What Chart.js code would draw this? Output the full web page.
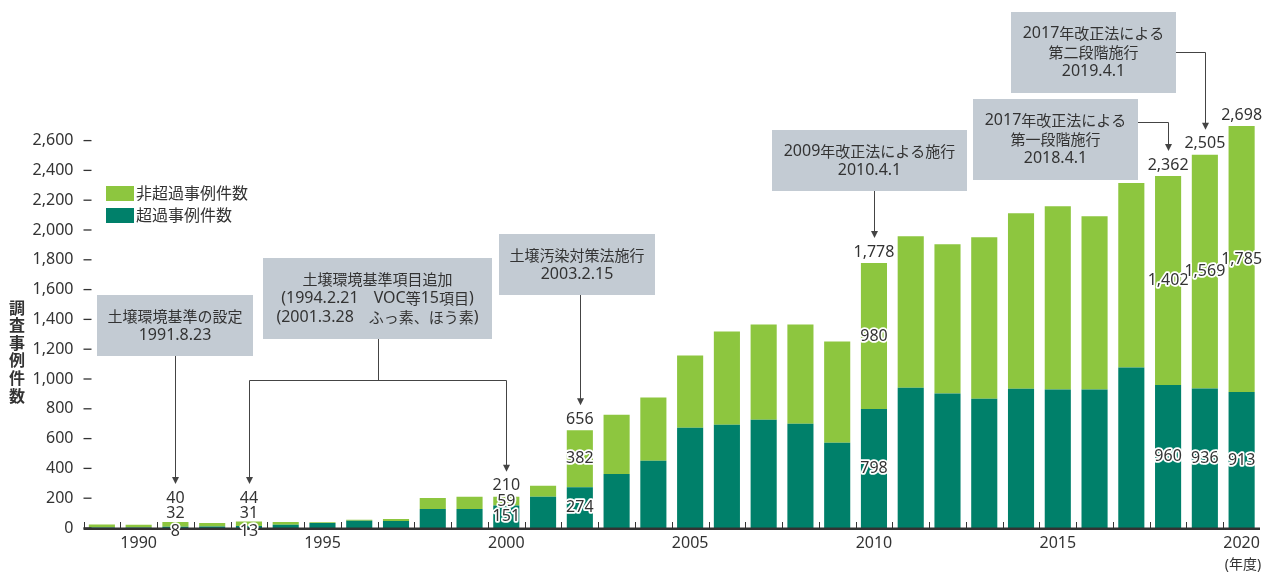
<!DOCTYPE html>
<html lang="ja">
<head>
<meta charset="utf-8">
<script src="https://cdn.jsdelivr.net/npm/chart.js@4"></script>
<style>
html, body { margin:0; padding:0; background:#fff; }
#wrap { position:relative; width:1266px; height:572px; }
</style>
</head>
<body>
<div id="wrap"><canvas id="myChart"></canvas></div>
<script>
// data
var years = [1989,1990,1991,1992,1993,1994,1995,1996,1997,1998,1999,2000,2001,2002,2003,2004,
             2005,2006,2007,2008,2009,2010,2011,2012,2013,2014,2015,2016,2017,2018,2019,2020];
var exceeded = [3,3,8,10,13,22,33,48,47,128,128,151,209,274,363,451,
                673,693,727,700,572,798,942,902,868,935,929,929,1077,960,936,913];
var notExceeded = [20,19,32,24,31,18,6,8,14,74,81,59,74,382,397,424,
                   484,626,639,666,680,980,1016,1002,1084,1178,1231,1164,1238,1402,1569,1785];
var labeledYears = [1991,1993,2000,2002,2010,2018,2019,2020];
var yTicks = [0,200,400,600,800,1000,1200,1400,1600,1800,2000,2200,2400,2600];
var seriesNames = ['超過事例件数','非超過事例件数'];
var colors = ['#00806a','#8dc63f'];

// call-out boxes (layout only), arrows go to the bars through the scales
var notes = [
  {text:['土壌環境基準の設定','1991.8.23'], box:[97,295,253,356], to:[1991], route:'down'},
  {text:['土壌環境基準項目追加','(1994.2.21　VOC等15項目)','(2001.3.28　ふっ素、ほう素)'], box:[263,258,492,339], to:[1993,2000], route:'fork', forkY:380},
  {text:['土壌汚染対策法施行','2003.2.15'], box:[499,234,655,295], to:[2002], route:'down'},
  {text:['2009年改正法による施行','2010.4.1'], box:[772,130,967,191], to:[2010], route:'down'},
  {text:['2017年改正法による','第一段階施行','2018.4.1'], box:[973,99,1138,180], to:[2018], route:'side', sideY:122},
  {text:['2017年改正法による','第二段階施行','2019.4.1'], box:[1011,12,1176,93], to:[2019], route:'side', sideY:52}
];

var FONT = '"Noto Sans", "Noto Sans CJK JP", sans-serif';
var CJK = '"Noto Sans CJK JP", sans-serif';
Chart.defaults.font.family = FONT;
Chart.defaults.font.size = 16;
Chart.defaults.color = '#333';

function fmt(v) { return v.toLocaleString('en-US'); }

function spots(chart, i) {
  var ys = chart.scales.y;
  var x = chart.scales.x.getPixelForValue(i);
  var base = ys.getPixelForValue(0);
  var a = exceeded[i], t = exceeded[i] + notExceeded[i];
  var yA = ys.getPixelForValue(a), yT = ys.getPixelForValue(t);
  if (base - yT < 20) return {x:x, ex:base + 3, non:base - 15, tot:base - 30};
  return {x:x, ex:(base + yA) / 2, non:(yA + yT) / 2, tot:yT - 11};
}

function haloText(ctx, s, x, y) {
  ctx.lineJoin = 'round';
  ctx.lineWidth = 3.5;
  ctx.strokeStyle = '#fff';
  ctx.strokeText(s, x, y);
  ctx.fillStyle = '#333';
  ctx.fillText(s, x, y);
}

// japanese runs a bit smaller than the latin digits, like the original
function mixedText(ctx, s, cx, cy) {
  var runs = s.match(/[\u3000-\u9fff\uff00-\uffef]+|[^\u3000-\u9fff\uff00-\uffef]+/g);
  var fonts = runs.map(function(r) {
    return /[\u3000-\u9fff\uff00-\uffef]/.test(r) ? '15px ' + CJK : '16px "Noto Sans", sans-serif';
  });
  var w = 0;
  runs.forEach(function(r, j) { ctx.font = fonts[j]; w += ctx.measureText(r).width; });
  var x = cx - w / 2;
  ctx.textAlign = 'left';
  runs.forEach(function(r, j) {
    ctx.font = fonts[j];
    ctx.fillText(r, x, cy);
    x += ctx.measureText(r).width;
  });
  ctx.textAlign = 'center';
}

function arrow(ctx, x, y0, tip) {
  ctx.beginPath();
  ctx.moveTo(x, y0);
  ctx.lineTo(x, tip - 6);
  ctx.stroke();
  ctx.beginPath();
  ctx.moveTo(x - 3.5, tip - 7);
  ctx.lineTo(x + 3.5, tip - 7);
  ctx.lineTo(x, tip);
  ctx.closePath();
  ctx.fill();
}

var extras = {
  id: 'extras',
  afterDatasetsDraw: function(chart) {
    var ctx = chart.ctx, area = chart.chartArea;
    var base = chart.scales.y.getPixelForValue(0);
    var slot = (area.right - area.left) / years.length;
    ctx.save();
    // x axis line + small upward ticks
    ctx.fillStyle = '#333';
    ctx.fillRect(area.left, base - 0.5, area.right - area.left, 2.5);
    ctx.strokeStyle = '#333';
    ctx.lineWidth = 1;
    for (var k = 0; k < years.length; k++) {
      var tx = Math.round(area.left + k * slot) + 0.5;
      ctx.beginPath(); ctx.moveTo(tx, base - 6); ctx.lineTo(tx, base); ctx.stroke();
    }
    // y tick dashes
    ctx.lineWidth = 1.3;
    yTicks.forEach(function(v) {
      var ty = chart.scales.y.getPixelForValue(v);
      ctx.beginPath(); ctx.moveTo(area.left, ty); ctx.lineTo(area.left + 8, ty); ctx.stroke();
    });
    ctx.restore();
  },
  afterDraw: function(chart) {
    var ctx = chart.ctx;
    ctx.save();
    // value labels
    ctx.font = '16px ' + FONT;
    ctx.textAlign = 'center';
    ctx.textBaseline = 'middle';
    labeledYears.forEach(function(yr) {
      var i = years.indexOf(yr);
      var p = spots(chart, i);
      haloText(ctx, fmt(exceeded[i] + notExceeded[i]), p.x, p.tot);
      haloText(ctx, fmt(notExceeded[i]), p.x, p.non);
      haloText(ctx, fmt(exceeded[i]), p.x, p.ex);
    });

    // call-out boxes
    notes.forEach(function(n) {
      var b = n.box;
      ctx.fillStyle = '#c3cbd3';
      ctx.fillRect(b[0], b[1], b[2] - b[0], b[3] - b[1]);
      ctx.fillStyle = '#333';
      var cx = (b[0] + b[2]) / 2, cy = (b[1] + b[3]) / 2, lh = 19;
      n.text.forEach(function(s, j) {
        mixedText(ctx, s, cx, cy + (j - (n.text.length - 1) / 2) * lh);
      });
      ctx.strokeStyle = '#444';
      ctx.fillStyle = '#444';
      ctx.lineWidth = 1;
      var tgt = n.to.map(function(yr) { return spots(chart, years.indexOf(yr)); });
      if (n.route === 'down') {
        arrow(ctx, Math.round(tgt[0].x) + 0.5, b[3], tgt[0].tot - 14);
      } else if (n.route === 'fork') {
        var mx = Math.round(cx) + 0.5, fy = n.forkY + 0.5;
        ctx.beginPath(); ctx.moveTo(mx, b[3]); ctx.lineTo(mx, fy); ctx.stroke();
        var xs = tgt.map(function(t) { return Math.round(t.x) + 0.5; });
        ctx.beginPath(); ctx.moveTo(xs[0], fy); ctx.lineTo(xs[xs.length - 1], fy); ctx.stroke();
        tgt.forEach(function(t, j) { arrow(ctx, xs[j], fy, t.tot - 14); });
      } else {
        var sx = Math.round(tgt[0].x) + 0.5, sy = n.sideY + 0.5;
        ctx.beginPath(); ctx.moveTo(b[2], sy); ctx.lineTo(sx, sy); ctx.stroke();
        arrow(ctx, sx, sy, tgt[0].tot - 14);
      }
    });

    // legend (top series first)
    ctx.font = '16px ' + FONT;
    ctx.textAlign = 'left';
    [1, 0].forEach(function(d, j) {
      var ly = 186 + j * 22;
      ctx.fillStyle = colors[d];
      ctx.fillRect(106, ly, 28, 15);
      ctx.fillStyle = '#333';
      ctx.fillText(seriesNames[d], 136, ly + 8);
    });

    // vertical axis title, one character per line
    ctx.font = 'bold 16px ' + FONT;
    ctx.textAlign = 'center';
    var title = '調査事例件数';
    for (var c = 0; c < title.length; c++) {
      ctx.fillText(title[c], 17, 309 + c * 17.6);
    }
    ctx.font = '14px ' + FONT;
    ctx.fillText('(年度)', 1243, 565);
    ctx.restore();
  }
};

var myChart = document.getElementById('myChart').getContext('2d');
var barChart = new Chart(myChart, {
  type: 'bar',
  data: {
    labels: years.map(String),
    datasets: [
      {label: seriesNames[0], data: exceeded, backgroundColor: colors[0], barPercentage: 0.71, categoryPercentage: 1},
      {label: seriesNames[1], data: notExceeded, backgroundColor: colors[1], barPercentage: 0.71, categoryPercentage: 1}
    ]
  },
  options: {
    responsive: true,
    maintainAspectRatio: false,
    animation: false,
    layout: {padding: {left: 0, right: 5, top: 0, bottom: 0}},
    plugins: {
      legend: {display: false},
      tooltip: {enabled: false}
    },
    scales: {
      x: {
        stacked: true,
        grid: {display: false, drawTicks: false},
        border: {display: false},
        ticks: {
          autoSkip: false,
          maxRotation: 0,
          padding: 6,
          color: '#333',
          font: {size: 16},
          callback: function(v, i) { return years[i] % 5 === 0 ? String(years[i]) : ''; }
        },
        afterFit: function(s) { s.height = 44; }
      },
      y: {
        stacked: true,
        min: 0,
        max: 3412,
        grid: {display: false, drawTicks: false},
        border: {display: false},
        ticks: {
          padding: 10,
          color: '#333',
          font: {size: 16},
          callback: function(v) { return fmt(v); }
        },
        afterBuildTicks: function(s) { s.ticks = yTicks.map(function(v) { return {value: v}; }); },
        afterFit: function(s) { s.width = 83.5; }
      }
    }
  },
  plugins: [extras]
});
</script>
</body>
</html>
